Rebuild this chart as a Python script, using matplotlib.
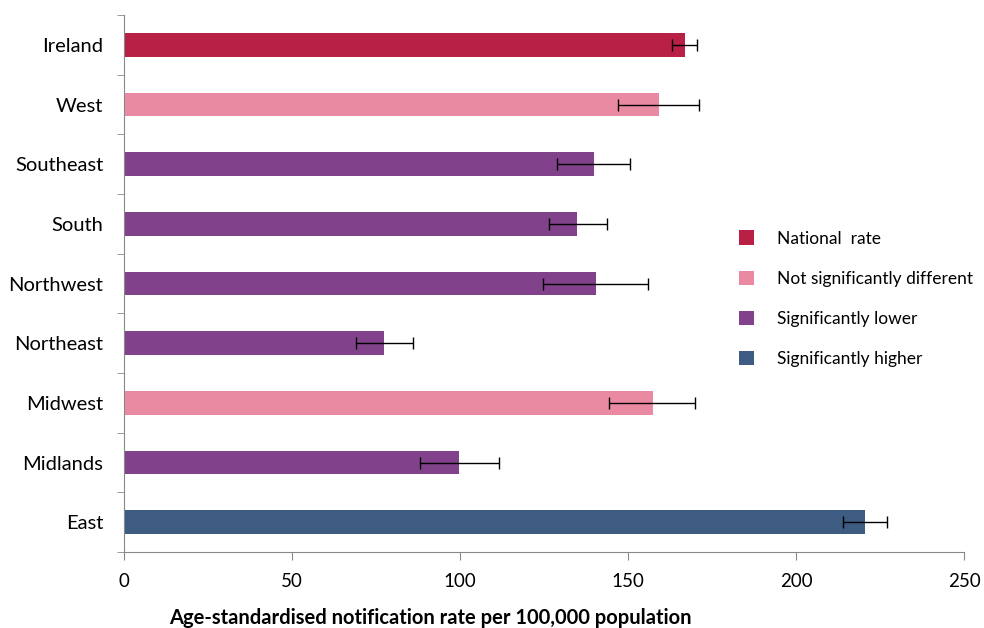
import matplotlib.pyplot as plt
from matplotlib.patches import Patch
import numpy as np

plt.rcParams['font.family'] = ['Lato', 'DejaVu Sans']

regions = ["Ireland", "West", "Southeast", "South", "Northwest",
           "Northeast", "Midwest", "Midlands", "East"]
rates = [167.0, 159.1, 139.9, 134.9, 140.5, 77.4, 157.3, 99.7, 220.4]
ci_low = [163.0, 147.1, 128.9, 126.4, 124.8, 69.1, 144.3, 88.1, 213.8]
ci_high = [170.5, 171.1, 150.6, 143.8, 155.9, 85.9, 170.0, 111.7, 227.1]
groups = ["national", "nsd", "lower", "lower", "lower",
          "lower", "nsd", "lower", "higher"]

group_colors = {
    "national": "#B92046",
    "nsd": "#EA8AA2",
    "lower": "#82418B",
    "higher": "#3E5C82",
}
legend_labels = {
    "national": "National  rate",
    "nsd": "Not significantly different",
    "lower": "Significantly lower",
    "higher": "Significantly higher",
}

rates = np.array(rates)
xerr = np.array([rates - np.array(ci_low), np.array(ci_high) - rates])
ypos = np.arange(len(regions))[::-1]

fig = plt.figure(figsize=(9.84, 6.28), dpi=100)
ax = fig.add_axes([0.126, 0.121, 0.854, 0.855])

ax.barh(ypos, rates, height=0.4, color=[group_colors[g] for g in groups])
ax.errorbar(rates, ypos, xerr=xerr, fmt="none", ecolor="black",
            elinewidth=1, capsize=4, capthick=1)

ax.set_xlim(0, 250)
ax.set_ylim(-0.5, len(regions) - 0.5)
ax.set_xticks(np.arange(0, 251, 50))
ax.set_yticks(ypos)
ax.set_yticklabels(regions)
ax.set_yticks(np.arange(-0.5, len(regions), 1), minor=True)
ax.tick_params(axis="y", which="major", length=0, labelsize=14.5, pad=15)
ax.tick_params(axis="y", which="minor", length=5, color="#888888")
ax.tick_params(axis="x", length=6, color="#888888", labelsize=13.5, pad=9)

for s in ["top", "right"]:
    ax.spines[s].set_visible(False)
for s in ["left", "bottom"]:
    ax.spines[s].set_color("#888888")

ax.set_xlabel("Age-standardised notification rate per 100,000 population",
              fontsize=14.5, fontweight="bold", labelpad=16)
ax.xaxis.set_label_coords(0.365, -0.105)

handles = [Patch(facecolor=group_colors[g], label=legend_labels[g])
           for g in ["national", "nsd", "lower", "higher"]]
fig.legend(handles=handles, loc="upper left", bbox_to_anchor=(0.735, 0.658),
           frameon=False, fontsize=12.5, labelspacing=1.38,
           handlelength=0.9, handleheight=0.9, handletextpad=1.3)

fig.savefig("out.png", dpi=100)
